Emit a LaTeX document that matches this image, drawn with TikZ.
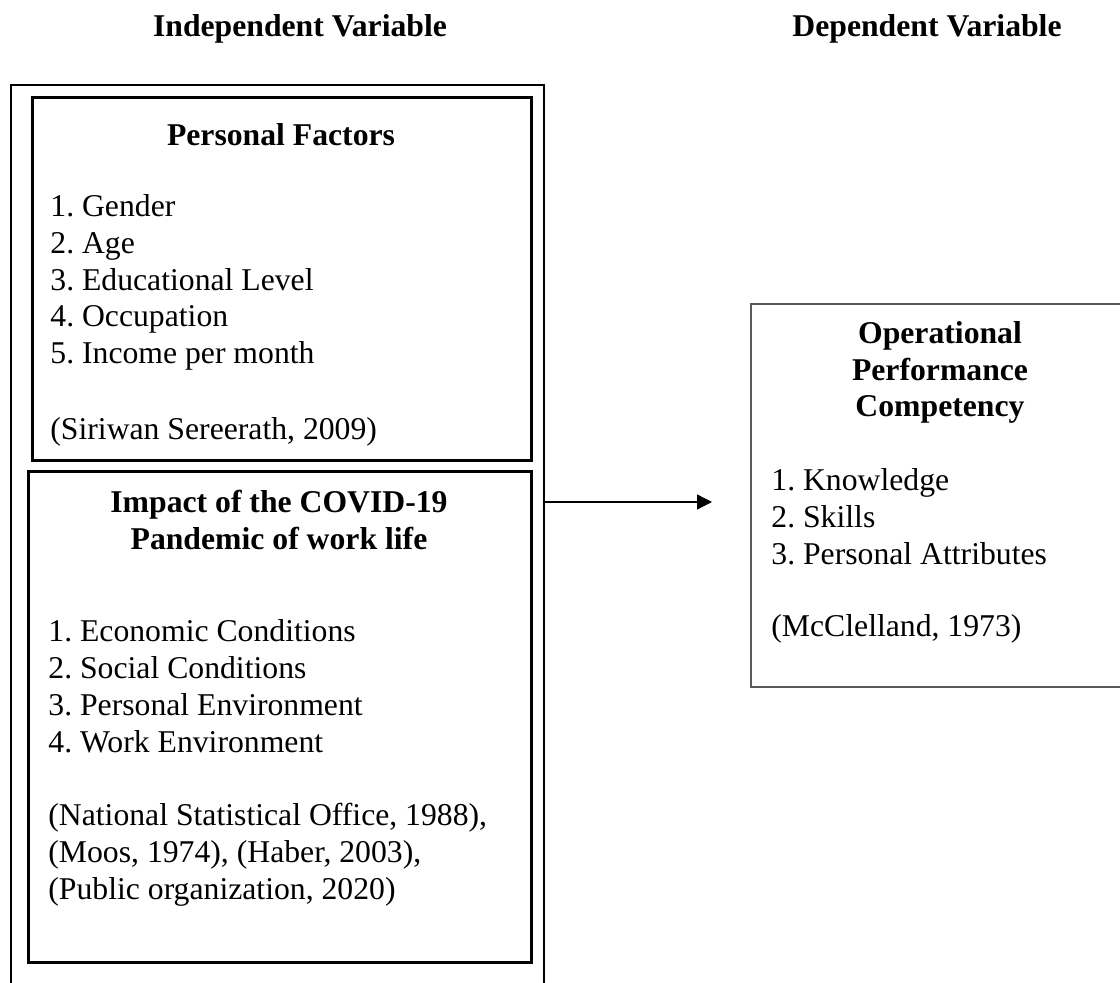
\documentclass[tikz,border=0pt]{standalone}
\usepackage{fontspec}
\setmainfont{Liberation Serif}
\usetikzlibrary{arrows.meta}
\frenchspacing
\begin{document}
\begin{tikzpicture}[x=0.5pt,y=-0.5pt,
  every node/.style={font=\fontsize{15.85}{18.35}\selectfont},
  txt/.style={anchor=base west, inner sep=0pt},
  ttl/.style={anchor=base, inner sep=0pt, font=\fontsize{15.85}{18.35}\selectfont\bfseries},
  inbox/.style={draw=black, line width=1.5pt, inner sep=0pt},
  depbox/.style={draw=black!65, line width=0.6pt, inner sep=0pt},
  outerline/.style={draw=black, line width=1pt},
  link/.style={draw=black, line width=0.65pt, -{Triangle[length=7.5pt,width=7.5pt]}}]
\useasboundingbox (0,0) rectangle (1120,983);
\fill[white] (0,0) rectangle (1120,983);

% column headings
\node[ttl] (hind) at (300,37) {Independent Variable};
\node[ttl] (hdep) at (927,37) {Dependent Variable};

% outer frame (open at the bottom)
\coordinate (obl) at (11,1000);
\coordinate (otl) at (11,85);
\coordinate (otr) at (544,85);
\coordinate (obr) at (544,1000);
\draw[outerline] (obl) -- (otl) -- (otr) -- (obr);

% boxes
\node[inbox, minimum width=249.5pt, minimum height=181.5pt] (pf) at (281.5,279.5) {};
\node[inbox, minimum width=251.5pt, minimum height=245pt] (im) at (279.5,717) {};
\node[depbox, minimum width=189.5pt, minimum height=191.5pt] (op) at (940.5,495.5) {};

% Personal Factors
\node[ttl] (pft) at (281,146) {Personal Factors};
\node[txt] (pf1) at (50,217) {1. Gender};
\node[txt] (pf2) at (50,253.6) {2. Age};
\node[txt] (pf3) at (50,290.2) {3. Educational Level};
\node[txt] (pf4) at (50,326.8) {4. Occupation};
\node[txt] (pf5) at (50,363.4) {5. Income per month};
\node[txt] (pfc) at (50,440) {(Siriwan Sereerath, 2009)};

% Impact of COVID-19
\node[ttl] (imt1) at (279,513) {Impact of the COVID-19};
\node[ttl] (imt2) at (279,550) {Pandemic of work life};
\node[txt] (im1) at (48,642) {1. Economic Conditions};
\node[txt] (im2) at (48,678.7) {2. Social Conditions};
\node[txt] (im3) at (48,715.4) {3. Personal Environment};
\node[txt] (im4) at (48,752.1) {4. Work Environment};
\node[txt] (imc1) at (48,826) {(National Statistical Office, 1988),};
\node[txt] (imc2) at (48,862.7) {(Moos, 1974), (Haber, 2003),};
\node[txt] (imc3) at (48,899.4) {(Public organization, 2020)};

% Operational Performance Competency
\node[ttl] (opt1) at (940,344) {Operational};
\node[ttl] (opt2) at (940,381) {Performance};
\node[ttl] (opt3) at (940,417) {Competency};
\node[txt] (op1) at (771,491) {1. Knowledge};
\node[txt] (op2) at (771,527.7) {2. Skills};
\node[txt] (op3) at (771,564.4) {3. Personal Attributes};
\node[txt] (opc) at (771,637) {(McClelland, 1973)};

% arrow
\coordinate (as) at (544,502);
\coordinate (ae) at (712,502);
\draw[link] (as) -- (ae);
\end{tikzpicture}
\end{document}
